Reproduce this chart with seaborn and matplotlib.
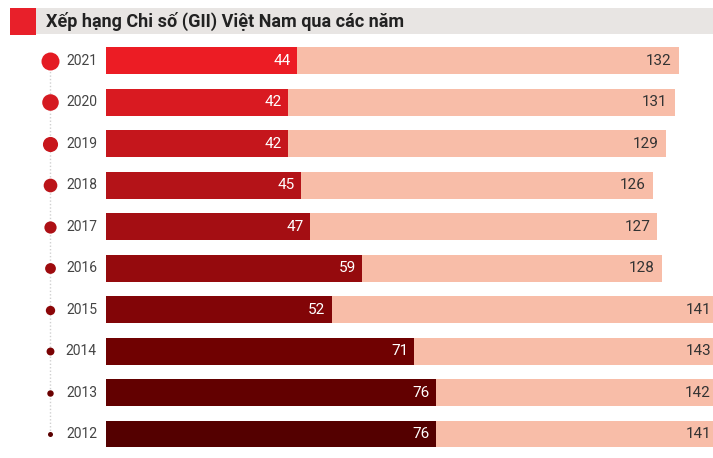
import matplotlib
matplotlib.use("Agg")
import matplotlib.pyplot as plt
import seaborn as sns
import pandas as pd
from matplotlib.patches import Rectangle

years = ["2021", "2020", "2019", "2018", "2017", "2016", "2015", "2014", "2013", "2012"]
rank = [44, 42, 42, 45, 47, 59, 52, 71, 76, 76]
total = [132, 131, 129, 126, 127, 128, 141, 143, 142, 141]
rank_colors = ["#ec1c24", "#d91a21", "#c5161c", "#b41318", "#a40e13", "#950a0d",
               "#820507", "#700101", "#620000", "#540000"]
circle_colors = ["#e41b23", "#d51a21", "#c8161c", "#bb1419", "#ad1015", "#9e0b0e",
                 "#8c0608", "#7a0203", "#6a0000", "#5a0000"]
title = "Xếp hạng Chi số (GII) Việt Nam qua các năm"

df = pd.DataFrame({"year": years, "rank": rank, "total": total})

sns.set_theme(style="white")
plt.rcParams["font.family"] = ["Roboto", "DejaVu Sans"]

W, H = 713, 458
fig = plt.figure(figsize=(W / 100, H / 100), dpi=100)
fig.patch.set_facecolor("white")

# title band
fig.patches.append(Rectangle((10 / W, 1 - 35 / H), 26 / W, 27 / H, transform=fig.transFigure,
                             facecolor="#e8202a", edgecolor="none"))
fig.patches.append(Rectangle((36 / W, 1 - 34 / H), (W - 36) / W, 26 / H, transform=fig.transFigure,
                             facecolor="#e8e5e3", edgecolor="none"))
fig.text(46 / W, 1 - 21 / H, title, fontsize=13, fontweight="bold", color="#222222",
         va="center", ha="left")

ax = fig.add_axes([106 / W, 0.0072, 1 - 106 / W, 0.905])
sns.barplot(data=df, y="year", x="total", order=years, color="#f8bda8", width=0.65,
            orient="h", ax=ax, saturation=1, linewidth=0)
sns.barplot(data=df, y="year", x="rank", order=years, hue="year", hue_order=years,
            palette=rank_colors, width=0.65, orient="h", ax=ax, saturation=1, legend=False,
            linewidth=0)

xmax = (W - 106) / 4.34
ax.set_xlim(0, xmax)
ax.set_ylim(9.5, -0.5)
ax.axis("off")

px = xmax / (W - 106)  # data units per pixel
for i, (r, t) in enumerate(zip(rank, total)):
    ax.text(r - 6 * px, i, str(r), color="white", fontsize=11, ha="right", va="center",
            clip_on=False)
    ax.text(min(t - 7 * px, xmax - 2 * px), i, str(t), color="#333333", fontsize=11,
            ha="right", va="center", clip_on=False)

cx = -56 * px
ax.plot([cx] * len(years), range(len(years)), color="#d0d0d0", linestyle=(0, (1, 1.5)),
        linewidth=1, clip_on=False, zorder=1)
for i, y in enumerate(years):
    r_px = 9 - 6.5 * i / (len(years) - 1)
    s = (2 * r_px * 0.72) ** 2
    ax.scatter([cx], [i], s=s, color=circle_colors[i], clip_on=False, zorder=3, linewidths=0)
    ax.text(-9 * px, i, y, color="#444444", fontsize=10, ha="right", va="center",
            clip_on=False)

fig.savefig("out.png", dpi=100)
